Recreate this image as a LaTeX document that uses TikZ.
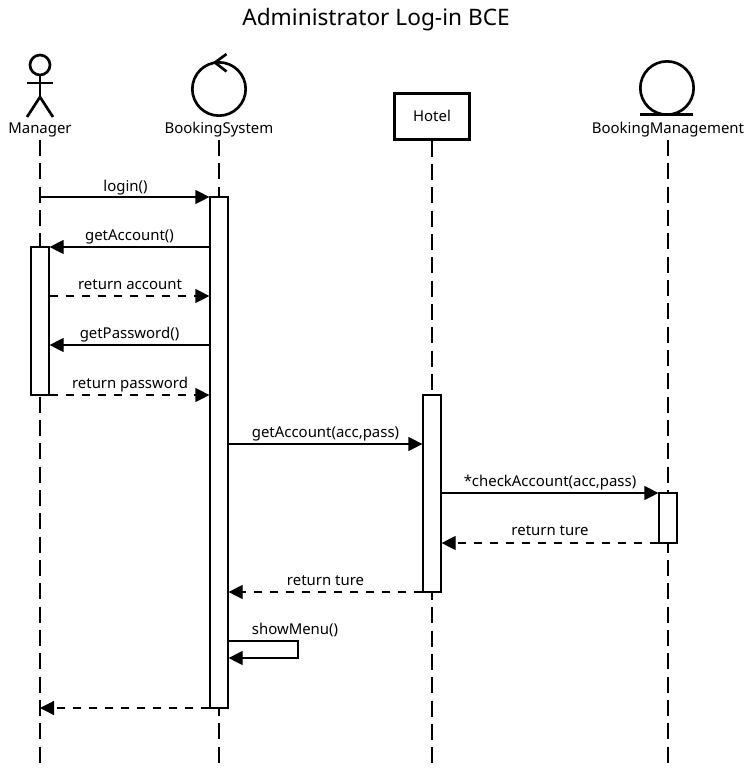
\documentclass[tikz,border=0pt]{standalone}
\usepackage{fontspec}
\setmainfont{Noto Sans}
\usepackage{tikz}
\usetikzlibrary{arrows.meta,positioning}

\begin{document}
\begin{tikzpicture}[x=0.75pt, y=-0.75pt, font=\fontsize{11.2}{13}\selectfont,
  lifeline/.style={draw, line width=1pt, dash pattern=on 12pt off 5.5pt},
  bar/.style={draw, rectangle, fill=white, line width=0.9pt, minimum width=13.5pt, inner sep=0pt},
  msg/.style={-{Triangle[length=10.5pt, width=10.5pt]}, line width=0.9pt},
  reply/.style={msg, dash pattern=on 6pt off 6pt},
  figure/.style={line width=2pt},
  lbl/.style={inner sep=0pt, anchor=base},
  head/.style={draw, circle, line width=2pt, inner sep=0pt, minimum size=40pt}]
  \useasboundingbox (0,0) rectangle (752,769);
  \node[font=\fontsize{17}{20}\selectfont] (title) at (376,20) {Administrator Log-in BCE};

  % heads
  \node[draw, circle, figure, inner sep=0pt, minimum size=15pt] (managerhead) at (40,65) {};
  \node (manager) at (40,130) {Manager};
  \node[head] (system) at (219,89) {};
  \node (systemlbl) at (219,130) {BookingSystem};
  \node[draw, rectangle, line width=2.25pt, minimum width=56pt, minimum height=34.5pt, inner sep=0pt] (hotel) at (432,116) {Hotel};
  \node[head] (mgmt) at (667,88) {};
  \node (mgmtlbl) at (668,130) {BookingManagement};

  % actor and icon strokes
  \coordinate (hip) at (40,97);
  \coordinate (armleft) at (27,83);
  \coordinate (armright) at (53,83);
  \coordinate (footleft) at (27,117);
  \coordinate (footright) at (53,117);
  \draw[figure] (managerhead.south) -- (hip);
  \draw[figure] (armleft) -- (armright);
  \draw[figure] (footleft) -- (hip) -- (footright);
  \coordinate (tipup) at (226.5,54);
  \coordinate (tipin) at (215,62.5);
  \coordinate (tipdown) at (226.5,71.5);
  \draw[figure] (tipup) -- (tipin) -- (tipdown);
  \coordinate (baseleft) at (640,114.5);
  \coordinate (baseright) at (693,114.5);
  \draw[figure] (baseleft) -- (baseright);

  % lifelines
  \coordinate (managerend) at (40,769);
  \coordinate (systemend) at (219,769);
  \coordinate (hotelend) at (432,769);
  \coordinate (mgmtend) at (668,769);
  \coordinate (managertop) at (40,140);
  \coordinate (systemtop) at (219,140);
  \coordinate (mgmttop) at (668,140);
  \draw[lifeline] (managertop) -- (managerend);
  \draw[lifeline] (systemtop) -- (systemend);
  \draw[lifeline] (hotel.south) -- (hotelend);
  \draw[lifeline] (mgmttop) -- (mgmtend);

  % activation bars
  \node[bar, minimum height=383.25pt] (systembar) at (219,452.5) {};
  \node[bar, minimum height=111pt] (managerbar) at (40,321) {};
  \node[bar, minimum height=147.75pt] (hotelbar) at (432,493.5) {};
  \node[bar, minimum height=37.5pt] (mgmtbar) at (668,518) {};

  % rows
  \coordinate (r1) at (0,197);
  \coordinate (r2) at (0,247);
  \coordinate (r3) at (0,296);
  \coordinate (r4) at (0,345);
  \coordinate (r5) at (0,395);
  \coordinate (r6) at (0,444);
  \coordinate (r7) at (0,493);
  \coordinate (r8) at (0,543);
  \coordinate (r9) at (0,592);
  \coordinate (r10) at (0,708);
  \coordinate (loopright) at (298,641);
  \coordinate (loopback) at (298,658);

  % messages
  \draw[msg] (managerend |- r1) -- (systembar.west |- r1);
  \draw[msg] (systembar.west |- r2) -- (managerbar.east |- r2);
  \draw[reply] (managerbar.east |- r3) -- (systembar.west |- r3);
  \draw[msg] (systembar.west |- r4) -- (managerbar.east |- r4);
  \draw[reply] (managerbar.east |- r5) -- (systembar.west |- r5);
  \draw[msg] (systembar.east |- r6) -- (hotelbar.west |- r6);
  \draw[msg] (hotelbar.east |- r7) -- (mgmtbar.west |- r7);
  \draw[reply] (mgmtbar.west |- r8) -- (hotelbar.east |- r8);
  \draw[reply] (hotelbar.west |- r9) -- (systembar.east |- r9);
  \draw[msg] (systembar.east |- loopright) -- (loopright) -- (loopback) -- (systembar.east |- loopback);
  \draw[reply] (systembar.west |- r10) -- (managerend |- r10);

  % message labels
  \node[lbl] (loginlbl) at (125.5,191) {login()};
  \node[lbl] (getacclbl) at (129.5,240) {getAccount()};
  \node[lbl] (retacclbl) at (130,289) {return account};
  \node[lbl] (getpasslbl) at (129.5,338) {getPassword()};
  \node[lbl] (retpasslbl) at (130,388) {return password};
  \node[lbl] (gethotellbl) at (325.5,437) {getAccount(acc,pass)};
  \node[lbl] (checklbl) at (550,486) {*checkAccount(acc,pass)};
  \node[lbl] (retmgmtlbl) at (550,535) {return ture};
  \node[lbl] (rethotellbl) at (325.5,585) {return ture};
  \node[lbl] (menulbl) at (295,634) {showMenu()};
\end{tikzpicture}
\end{document}
